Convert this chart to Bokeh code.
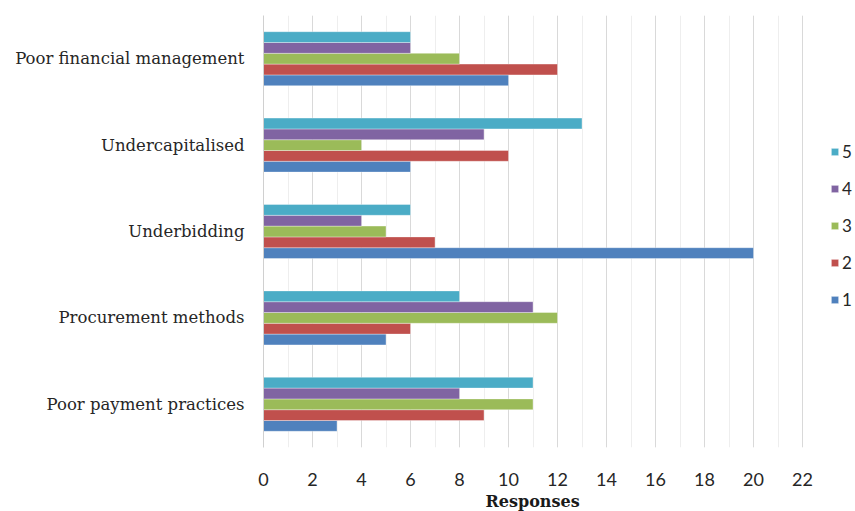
from bokeh.plotting import figure
from bokeh.models import ColumnDataSource, FactorRange, Legend, LegendItem, SingleIntervalTicker, Title
from bokeh.transform import dodge
from bokeh.embed import file_html
from bokeh.resources import INLINE

categories = ["Poor payment practices", "Procurement methods", "Underbidding",
              "Undercapitalised", "Poor financial management"]
series_names = ["1", "2", "3", "4", "5"]
s1 = [3, 5, 20, 6, 10]
s2 = [9, 6, 7, 10, 12]
s3 = [11, 12, 5, 4, 8]
s4 = [8, 11, 4, 9, 6]
s5 = [11, 8, 6, 13, 6]
colors = ["#4F81BD", "#C0504D", "#9BBB59", "#8064A2", "#4BACC6"]
x_max = 22

source = ColumnDataSource(data=dict(cat=categories, s1=s1, s2=s2, s3=s3, s4=s4, s5=s5))

# frame spans to right edge so the legend can live inside it; axis/grid bounded to 0..22
p = figure(width=855, height=511, y_range=FactorRange(factors=categories),
           x_range=(0, x_max * 592 / 539), output_backend="svg", toolbar_location=None,
           min_border_left=263, min_border_right=0, min_border_top=15, min_border_bottom=63)
p.outline_line_color = None

offsets = [-0.25, -0.125, 0.0, 0.125, 0.25]
renderers = []
for i, key in enumerate(["s1", "s2", "s3", "s4", "s5"]):
    r = p.hbar(y=dodge("cat", offsets[i], range=p.y_range), left=0, right=key, height=0.125,
               source=source, fill_color=colors[i], line_color="white", line_alpha=0.35, line_width=1)
    renderers.append(r)

# axes
p.xaxis.ticker = SingleIntervalTicker(interval=2, num_minor_ticks=2)
p.xaxis.bounds = (0, x_max)
p.xaxis.axis_line_color = None
p.xaxis.major_tick_line_color = None
p.xaxis.minor_tick_line_color = None
p.xaxis.major_label_text_font = "Lato"
p.xaxis.major_label_text_font_size = "18px"
p.xaxis.major_label_text_color = "#262626"
p.xaxis.major_label_standoff = 19

# axis title, centred under the 0..22 span
p.add_layout(Title(text="Responses", align="left", offset=222, standoff=2,
                   text_font="DejaVu Serif", text_font_size="16px", text_font_style="bold",
                   text_color="#1a1a1a"), "below")

p.yaxis.axis_line_color = "#d0d0d0"
p.yaxis.major_tick_line_color = None
p.yaxis.minor_tick_line_color = None
p.yaxis.major_label_text_font = "DejaVu Serif"
p.yaxis.major_label_text_font_size = "16.5px"
p.yaxis.major_label_text_color = "#262626"
p.yaxis.major_label_standoff = 13

p.ygrid.grid_line_color = None
p.xgrid.bounds = (0, x_max)
p.xgrid.grid_line_color = "#d9d9d9"
p.xgrid.minor_grid_line_color = "#eeeeee"

items = [LegendItem(label=series_names[i], renderers=[renderers[i]]) for i in range(4, -1, -1)]
legend = Legend(items=items, location=(567, 137), orientation="vertical",
                glyph_width=9, glyph_height=9, label_height=9, spacing=16,
                label_standoff=3, padding=0, margin=0, border_line_color=None,
                background_fill_alpha=0, label_text_font="Lato", label_text_font_size="17px",
                label_text_color="#262626", label_text_baseline="middle")
p.add_layout(legend, "center")

open("out.html", "w").write(file_html(p, INLINE))
